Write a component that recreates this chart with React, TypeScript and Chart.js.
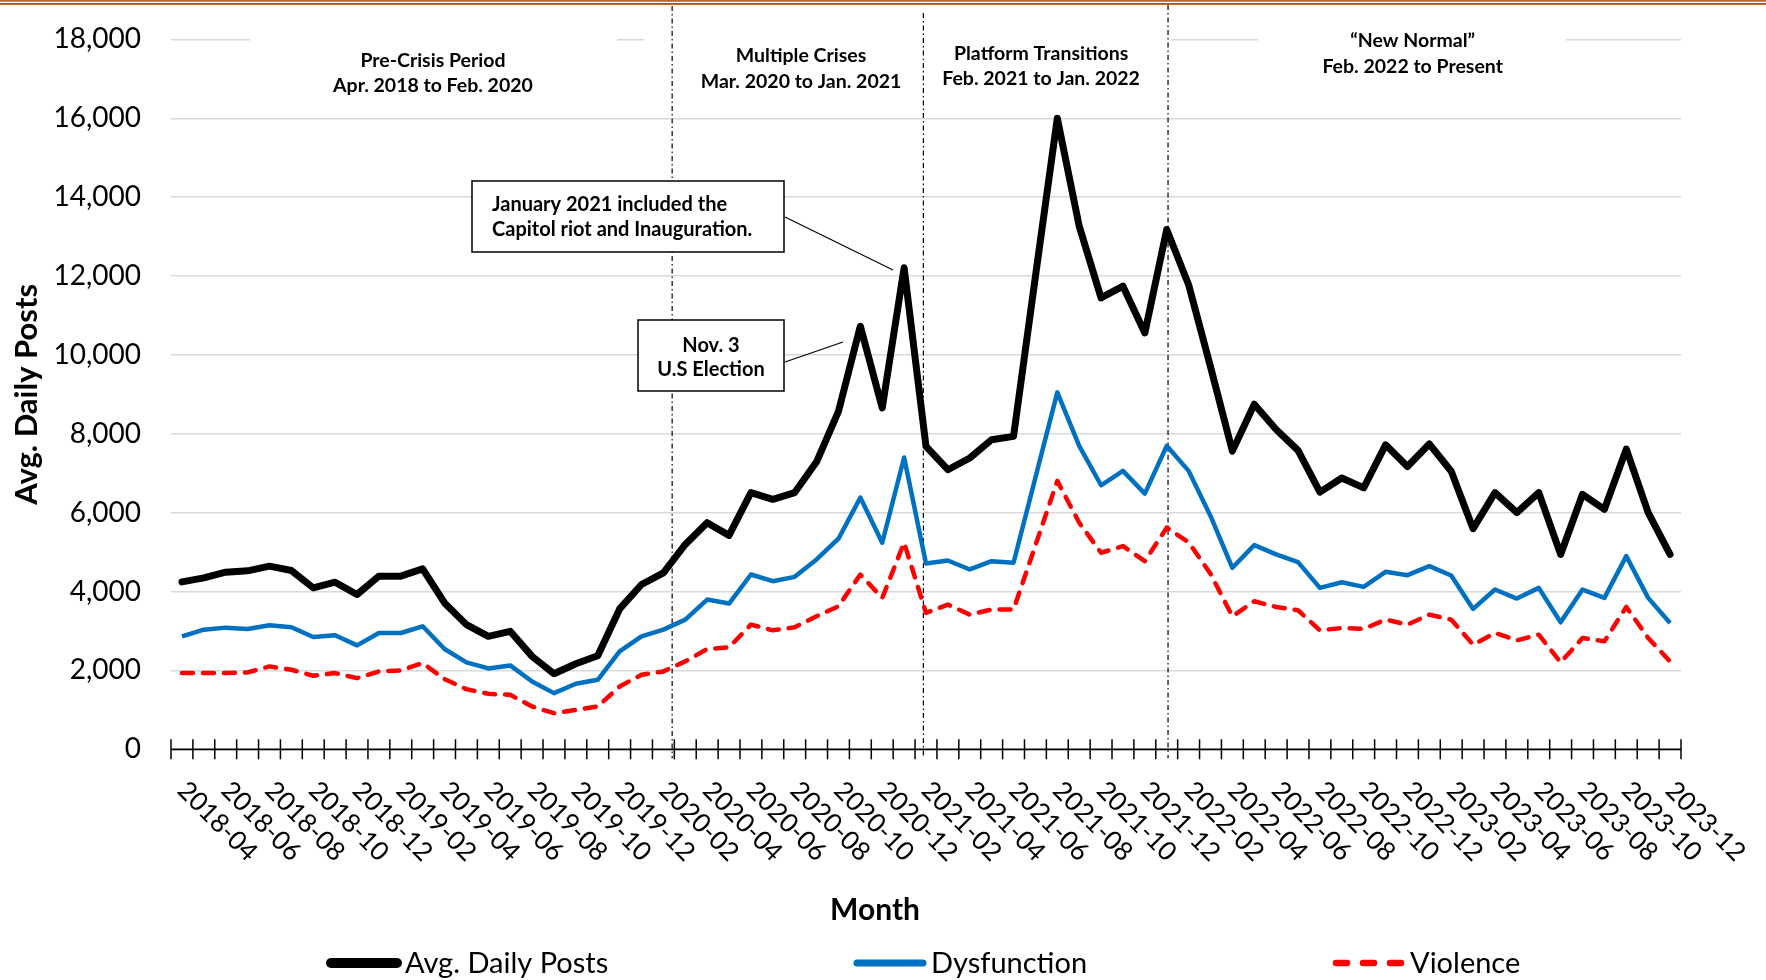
import React, { useEffect, useRef } from "react";
import { Chart, registerables } from "chart.js";

Chart.register(...registerables);

const months = [
  "2018-04", "2018-05", "2018-06", "2018-07", "2018-08", "2018-09", "2018-10", "2018-11", "2018-12",
  "2019-01", "2019-02", "2019-03", "2019-04", "2019-05", "2019-06", "2019-07", "2019-08", "2019-09", "2019-10", "2019-11", "2019-12",
  "2020-01", "2020-02", "2020-03", "2020-04", "2020-05", "2020-06", "2020-07", "2020-08", "2020-09", "2020-10", "2020-11", "2020-12",
  "2021-01", "2021-02", "2021-03", "2021-04", "2021-05", "2021-06", "2021-07", "2021-08", "2021-09", "2021-10", "2021-11", "2021-12",
  "2022-01", "2022-02", "2022-03", "2022-04", "2022-05", "2022-06", "2022-07", "2022-08", "2022-09", "2022-10", "2022-11", "2022-12",
  "2023-01", "2023-02", "2023-03", "2023-04", "2023-05", "2023-06", "2023-07", "2023-08", "2023-09", "2023-10", "2023-11", "2023-12",
];

const avgDailyPosts = [
  4246, 4348, 4492, 4525, 4644, 4534, 4093, 4237, 3924, 4390,
  4390, 4576, 3712, 3161, 2864, 2992, 2356, 1915, 2170, 2373,
  3560, 4178, 4475, 5195, 5746, 5424, 6509, 6339, 6509, 7289,
  8568, 10727, 8655, 12208, 7682, 7089, 7386, 7851, 7935, 11990,
  16000, 13265, 11446, 11742, 10558, 13180, 11780, 9700, 7560, 8750,
  8110, 7580, 6520, 6880, 6630, 7720, 7170, 7740, 7050, 5594,
  6509, 6000, 6509, 4941, 6466, 6085, 7611, 6000, 4941,
];

const dysfunction = [
  2865, 3034, 3085, 3051, 3144, 3093, 2848, 2890, 2636, 2949,
  2949, 3119, 2543, 2204, 2051, 2127, 1720, 1424, 1661, 1763,
  2483, 2865, 3034, 3288, 3797, 3695, 4432, 4263, 4373, 4814,
  5339, 6382, 5238, 7399, 4712, 4788, 4560, 4771, 4729, 6890,
  9051, 7695, 6695, 7060, 6484, 7695, 7060, 5916, 4602, 5178,
  4941, 4746, 4093, 4237, 4119, 4500, 4415, 4644, 4407, 3560,
  4051, 3822, 4093, 3220, 4051, 3839, 4899, 3839, 3203,
];

const violence = [
  1932, 1932, 1932, 1949, 2102, 2017, 1864, 1932, 1805, 1975,
  2000, 2187, 1780, 1525, 1407, 1381, 1085, 915, 1000, 1085,
  1593, 1890, 1975, 2229, 2543, 2585, 3161, 3017, 3093, 3373,
  3627, 4432, 3839, 5238, 3458, 3670, 3415, 3543, 3543, 5170,
  6805, 5746, 4983, 5153, 4771, 5619, 5250, 4450, 3373, 3754,
  3610, 3526, 3017, 3076, 3051, 3288, 3161, 3415, 3288, 2653,
  2949, 2763, 2907, 2204, 2822, 2737, 3610, 2822, 2229,
];

const seriesNames = ["Avg. Daily Posts", "Dysfunction", "Violence"];
const seriesColors = ["#000000", "#0070C0", "#FF0000"];

const periodTitles = ["Pre-Crisis Period", "Multiple Crises", "Platform Transitions", "\u201CNew Normal\u201D"];
const periodRanges = ["Apr. 2018 to Feb. 2020", "Mar. 2020 to Jan. 2021", "Feb. 2021 to Jan. 2022", "Feb. 2022 to Present"];
// category-index positions
const periodCenters = [11.47, 28.29, 39.26, 56.24];
const dividerPositions = [22.4, 33.88, 45.06];

const annotationLines = [
  ["January 2021 included the", "Capitol riot and Inauguration."],
  ["Nov. 3", "U.S Election"],
];

// ---------- layout constants (pixels) ----------
const W = 1766;
const H = 980;
const PLOT_LEFT = 171;
const PLOT_RIGHT = 1681;
const PLOT_TOP = 39.4;
const PLOT_BOTTOM = 749.3;
const periodLineY = [60.5, 56, 53.5, 41];
const labelBoxes = [
  [250, 28, 617, 100],
  [644, 28, 1171, 100],
  [1258, 25, 1566, 82],
];
const dividerTops = [6, 13, 5];
const annotationLayout = [
  { box: [472, 181, 784, 252], align: "left", tx: 492, ty: [205, 230], ptr: [785, 217, 893, 270] },
  { box: [638, 320, 784, 391], align: "center", tx: 711, ty: [346, 370], ptr: [785, 362, 843, 342] },
];
const legendX = [331, 857, 1336];
const legendY = 963;
const legendSampleLen = 66;
const legendLineWidths = [10, 7, 6.5];

const overlayPlugin = {
  id: "overlay",
  beforeDatasetsDraw(chart: any) {
    const { ctx, chartArea } = chart;
    const x = chart.scales.x;
    ctx.save();
    // white backgrounds behind period labels
    ctx.fillStyle = "#ffffff";
    labelBoxes.forEach(([x0, y0, x1, y1]) => ctx.fillRect(x0, y0, x1 - x0, y1 - y0));
    // period labels
    ctx.fillStyle = "#000";
    ctx.font = "bold 19.5px Lato";
    ctx.textAlign = "center";
    ctx.textBaseline = "middle";
    periodTitles.forEach((t, i) => {
      const cx = x.getPixelForValue(periodCenters[i]);
      ctx.fillText(t, cx, periodLineY[i]);
      ctx.fillText(periodRanges[i], cx, periodLineY[i] + 25.5);
    });
    // dividers
    ctx.strokeStyle = "#000";
    ctx.lineWidth = 1.2;
    ctx.setLineDash([5, 3, 1.5, 3]);
    dividerPositions.forEach((p, i) => {
      const px = x.getPixelForValue(p);
      ctx.beginPath();
      ctx.moveTo(px, dividerTops[i]);
      ctx.lineTo(px, chartArea.bottom + 9);
      ctx.stroke();
    });
    ctx.setLineDash([]);
    // x axis line with crossing tick marks
    ctx.lineWidth = 1.8;
    ctx.beginPath();
    ctx.moveTo(chartArea.left, chartArea.bottom);
    ctx.lineTo(chartArea.right, chartArea.bottom);
    ctx.stroke();
    ctx.lineWidth = 1.5;
    for (let k = 0; k <= months.length; k++) {
      const px = x.getPixelForValue(k - 0.5);
      ctx.beginPath();
      ctx.moveTo(px, chartArea.bottom - 10);
      ctx.lineTo(px, chartArea.bottom + 10);
      ctx.stroke();
    }
    ctx.restore();
  },
  afterDatasetsDraw(chart: any) {
    const { ctx } = chart;
    ctx.save();
    annotationLayout.forEach((a, i) => {
      const [x0, y0, x1, y1] = a.box;
      ctx.fillStyle = "#fff";
      ctx.fillRect(x0, y0, x1 - x0, y1 - y0);
      ctx.strokeStyle = "#000";
      ctx.lineWidth = 1.5;
      ctx.strokeRect(x0, y0, x1 - x0, y1 - y0);
      ctx.lineWidth = 1.2;
      ctx.beginPath();
      ctx.moveTo(a.ptr[0], a.ptr[1]);
      ctx.lineTo(a.ptr[2], a.ptr[3]);
      ctx.stroke();
      ctx.fillStyle = "#000";
      ctx.font = "bold 20px Lato";
      ctx.textAlign = a.align as CanvasTextAlign;
      ctx.textBaseline = "middle";
      annotationLines[i].forEach((line, j) => ctx.fillText(line, a.tx, a.ty[j]));
    });
    ctx.restore();
  },
  afterDraw(chart: any) {
    const { ctx } = chart;
    const x = chart.scales.x;
    ctx.save();
    // rotated month labels (every second month)
    ctx.fillStyle = "#000";
    ctx.font = "26px Lato";
    ctx.textAlign = "left";
    ctx.textBaseline = "middle";
    months.forEach((m, i) => {
      if (i % 2 !== 0) return;
      const px = x.getPixelForValue(i);
      ctx.save();
      ctx.translate(px, 786);
      ctx.rotate(Math.PI / 4);
      ctx.fillText(m, 0, 0);
      ctx.restore();
    });
    // x axis title
    ctx.font = "bold 30px Lato";
    ctx.textAlign = "center";
    ctx.textBaseline = "alphabetic";
    ctx.fillText("Month", 875, 920);
    // legend
    chart.data.datasets.forEach((ds: any, i: number) => {
      const lx = legendX[i];
      ctx.strokeStyle = ds.borderColor;
      ctx.lineWidth = legendLineWidths[i];
      ctx.lineCap = "round";
      ctx.setLineDash(ds.borderDash && ds.borderDash.length ? [11, 16] : []);
      ctx.beginPath();
      ctx.moveTo(lx, legendY);
      ctx.lineTo(lx + legendSampleLen, legendY);
      ctx.stroke();
      ctx.setLineDash([]);
      ctx.fillStyle = "#000";
      ctx.font = "29px Lato";
      ctx.textAlign = "left";
      ctx.textBaseline = "middle";
      ctx.fillText(ds.label, lx + legendSampleLen + 8, legendY + 1);
    });
    // top border
    ctx.fillStyle = "#B8662F";
    ctx.fillRect(0, 0, W, 1.8);
    ctx.fillStyle = "#9A5025";
    ctx.fillRect(0, 3, W, 1.8);
    ctx.restore();
  },
};

export default function App() {
  const canvasRef = useRef<HTMLCanvasElement | null>(null);

  useEffect(() => {
    const canvas = canvasRef.current;
    if (!canvas) return;
    const chart = new Chart(canvas, {
      type: "line",
      data: {
        labels: months,
        datasets: [
          {
            label: seriesNames[0],
            data: avgDailyPosts,
            borderColor: seriesColors[0],
            backgroundColor: seriesColors[0],
            borderWidth: 7,
            pointRadius: 0,
            borderJoinStyle: "round",
            borderCapStyle: "round",
            tension: 0,
          },
          {
            label: seriesNames[1],
            data: dysfunction,
            borderColor: seriesColors[1],
            backgroundColor: seriesColors[1],
            borderWidth: 4.5,
            pointRadius: 0,
            borderJoinStyle: "round",
            tension: 0,
          },
          {
            label: seriesNames[2],
            data: violence,
            borderColor: seriesColors[2],
            backgroundColor: seriesColors[2],
            borderWidth: 4.5,
            borderDash: [11, 10],
            borderCapStyle: "round",
            borderJoinStyle: "round",
            pointRadius: 0,
            tension: 0,
          },
        ],
      },
      options: {
        animation: false,
        responsive: false,
        layout: { padding: { top: PLOT_TOP, right: W - PLOT_RIGHT, bottom: 0, left: 0 } },
        plugins: { legend: { display: false }, tooltip: { enabled: false } },
        scales: {
          x: {
            type: "category",
            offset: true,
            grid: { display: false },
            border: { display: false },
            ticks: { display: false },
            afterFit: (s: any) => {
              s.height = H - PLOT_BOTTOM;
            },
          },
          y: {
            min: 0,
            max: 18000,
            ticks: {
              stepSize: 2000,
              color: "#000",
              font: { family: "Lato", size: 28 },
              padding: 0,
            },
            grid: {
              color: "#D9D9D9",
              lineWidth: 1.5,
              drawTicks: true,
              tickLength: 30,
              tickColor: "rgba(0,0,0,0)",
            },
            border: { display: false },
            title: {
              display: true,
              text: "Avg. Daily Posts",
              color: "#000",
              font: { family: "Lato", size: 31, weight: "bold" },
              padding: { top: 8, bottom: 0 },
            },
            afterFit: (s: any) => {
              s.width = PLOT_LEFT;
            },
          },
        },
      },
      plugins: [overlayPlugin],
    } as any);
    return () => chart.destroy();
  }, []);

  return (
    <div style={{ position: "absolute", left: 0, top: 0, width: W, height: H, background: "#fff" }}>
      <canvas ref={canvasRef} width={W} height={H} style={{ display: "block" }} />
    </div>
  );
}
